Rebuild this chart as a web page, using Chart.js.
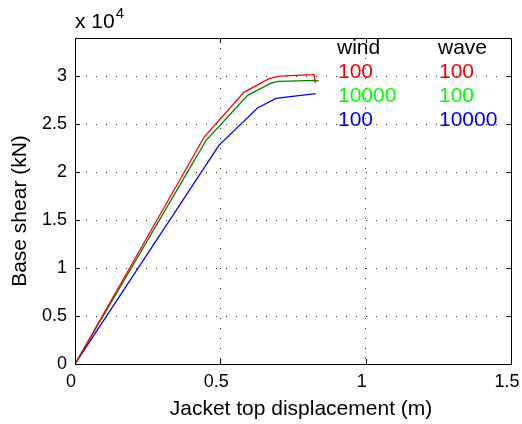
<!DOCTYPE html>
<html>
<head>
<meta charset="utf-8">
<script src="https://cdn.jsdelivr.net/npm/chart.js@4/dist/chart.umd.min.js"></script>
<style>
  html, body { margin: 0; padding: 0; background: #ffffff; }
  #wrap { width: 522px; height: 424px; }
</style>
</head>
<body>
<div id="wrap"><canvas id="c" width="522" height="424"></canvas></div>
<script>
// ---- data (displacement in m, base shear in kN) ----
const redX   = [0, 0.445, 0.582, 0.668, 0.702, 0.816, 0.822, 0.827];
const redY   = [0, 23700, 28360, 29760, 30030, 30170, 30200, 29300];
const greenX = [0, 0.451, 0.594, 0.674, 0.702, 0.828, 0.839];
const greenY = [0, 23330, 28020, 29300, 29480, 29580, 29500];
const blueX  = [0, 0.495, 0.628, 0.691, 0.828];
const blueY  = [0, 22800, 26700, 27700, 28200];

const xTicks = [0, 0.5, 1, 1.5];
const yTicks = [0, 5000, 10000, 15000, 20000, 25000, 30000];

const legendHeader = ['wind', 'wave'];
const legendWind = ['100', '10000', '100'];
const legendWave = ['100', '100', '10000'];
const legendColors = ['#ff0000', '#00ff00', '#0000ff'];
const lineColors = ['#ff0000', '#008000', '#0000ff'];

const xTitle = 'Jacket top displacement (m)';
const yTitle = 'Base shear (kN)';

function pts(xs, ys) { return xs.map((x, i) => ({x: x, y: ys[i]})); }

const FONT = 'Liberation Sans, Arial, Helvetica, sans-serif';

const matlabPlugin = {
  id: 'matlab',
  afterDraw(chart) {
    const ctx = chart.ctx;
    const a = chart.chartArea;
    const xs = chart.scales.x, ys = chart.scales.y;
    ctx.save();
    // box
    ctx.strokeStyle = '#000';
    ctx.lineWidth = 1;
    ctx.strokeRect(Math.round(a.left) + 0.5, Math.round(a.top) + 0.5,
                   Math.round(a.right - a.left), Math.round(a.bottom - a.top));
    // inward ticks
    const tl = 5;
    ctx.beginPath();
    xTicks.forEach(v => {
      const px = Math.round(xs.getPixelForValue(v)) + 0.5;
      ctx.moveTo(px, a.bottom); ctx.lineTo(px, a.bottom - tl);
      ctx.moveTo(px, a.top); ctx.lineTo(px, a.top + tl);
    });
    yTicks.forEach(v => {
      const py = Math.round(ys.getPixelForValue(v)) + 0.5;
      ctx.moveTo(a.left, py); ctx.lineTo(a.left + tl, py);
      ctx.moveTo(a.right, py); ctx.lineTo(a.right - tl, py);
    });
    ctx.stroke();
    ctx.fillStyle = '#000';
    ctx.textBaseline = 'alphabetic';
    // axis titles
    ctx.font = '21px ' + FONT;
    ctx.textAlign = 'center';
    ctx.fillText(xTitle, 301, 415);
    ctx.save();
    ctx.translate(26, 211);
    ctx.rotate(-Math.PI / 2);
    ctx.fillText(yTitle, 0, 0);
    ctx.restore();
    // exponent label
    ctx.textAlign = 'left';
    ctx.font = '21px ' + FONT;
    ctx.fillText('x 10', 75, 28);
    const w = ctx.measureText('x 10').width;
    ctx.font = '15px ' + FONT;
    ctx.fillText('4', 75 + w + 1, 18);
    // legend text
    ctx.font = '21px ' + FONT;
    ctx.fillStyle = '#000';
    ctx.fillText(legendHeader[0], 337, 54);
    ctx.fillText(legendHeader[1], 438, 54);
    for (let i = 0; i < 3; i++) {
      ctx.fillStyle = legendColors[i];
      ctx.fillText(legendWind[i], 338, 78 + i * 24);
      ctx.fillText(legendWave[i], 439, 78 + i * 24);
    }
    ctx.restore();
  }
};

new Chart(document.getElementById('c'), {
  type: 'line',
  data: {
    datasets: [
      {data: pts(redX, redY), borderColor: lineColors[0]},
      {data: pts(greenX, greenY), borderColor: lineColors[1]},
      {data: pts(blueX, blueY), borderColor: lineColors[2]}
    ]
  },
  options: {
    responsive: false,
    animation: false,
    devicePixelRatio: 1,
    layout: {padding: {left: 0, right: 11, top: 38, bottom: 0}},
    elements: {
      line: {borderWidth: 1.3, tension: 0, fill: false},
      point: {radius: 0}
    },
    plugins: {legend: {display: false}, tooltip: {enabled: false}},
    scales: {
      x: {
        type: 'linear', min: 0, max: 1.5,
        afterBuildTicks: s => { s.ticks = xTicks.map(v => ({value: v})); },
        afterFit: s => { s.height = 60; s.paddingLeft = 0; s.paddingRight = 0; },
        ticks: {
          color: '#000', font: {size: 18, family: FONT}, padding: 7, labelOffset: -4,
          maxRotation: 0, autoSkip: false,
          callback: v => String(v)
        },
        grid: {color: 'rgba(0,0,0,0.8)', lineWidth: 1, drawTicks: false},
        border: {display: true, color: '#000', width: 1, dash: [1, 9]},
        title: {display: false}
      },
      y: {
        type: 'linear', min: 0, max: 34000,
        afterBuildTicks: s => { s.ticks = yTicks.map(v => ({value: v})); },
        afterFit: s => { s.width = 75; s.paddingTop = 0; s.paddingBottom = 0; },
        ticks: {
          color: '#000', font: {size: 18, family: FONT}, padding: 8,
          callback: v => String(v / 10000)
        },
        grid: {color: 'rgba(0,0,0,0.8)', lineWidth: 1, drawTicks: false},
        border: {display: true, color: '#000', width: 1, dash: [1, 9]},
        title: {display: false}
      }
    }
  },
  plugins: [matlabPlugin]
});
</script>
</body>
</html>
